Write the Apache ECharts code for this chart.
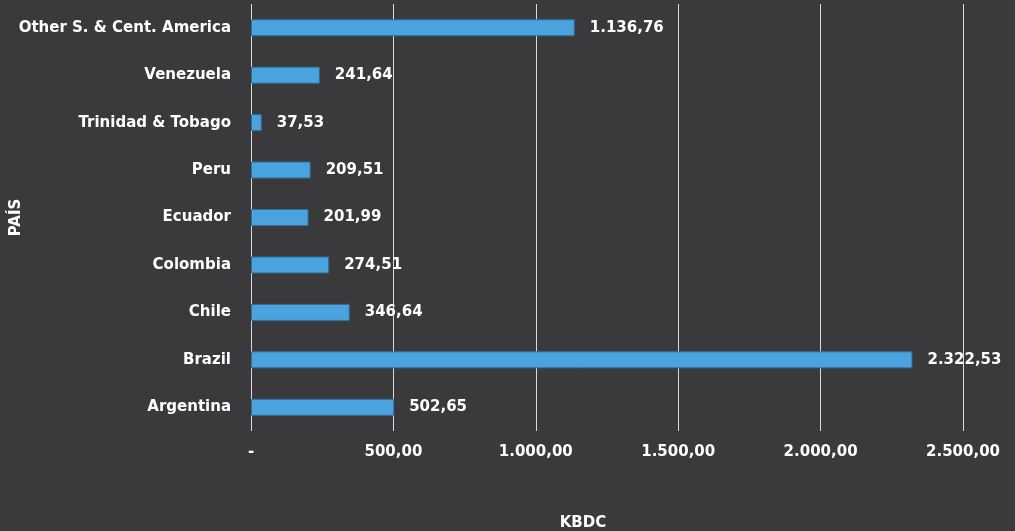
<!DOCTYPE html>
<html>
<head>
<meta charset="utf-8">
<script src="https://cdn.jsdelivr.net/npm/echarts@6/dist/echarts.min.js"></script>
<style>
html,body{margin:0;padding:0;background:#3a3a3c;}
#c{width:1015px;height:531px;}
</style>
</head>
<body>
<div id="c"></div>
<script>
var categories = ["Argentina","Brazil","Chile","Colombia","Ecuador","Peru","Trinidad & Tobago","Venezuela","Other S. & Cent. America"];
var values = [502.65, 2322.53, 346.64, 274.51, 201.99, 209.51, 37.53, 241.64, 1136.76];
var xTicks = [0, 500, 1000, 1500, 2000, 2500];

function fmt(v){
  if (v === 0) return '-';
  var parts = v.toFixed(2).split('.');
  var intPart = parts[0].replace(/\B(?=(\d{3})+(?!\d))/g, '.');
  return intPart + ',' + parts[1];
}

var FONT = '"DejaVu Sans", sans-serif';
var FS = 15;
var chart = echarts.init(document.getElementById('c'));
chart.setOption({
  backgroundColor: '#3a3a3c',
  animation: false,
  title: {
    text: 'KBDC',
    left: 578, top: 511,
    textAlign: 'center',
    textStyle: {color: '#ffffff', fontFamily: FONT, fontWeight: 'bold', fontSize: FS}
  },
  grid: {left: 251, right: 52, top: 4, bottom: 100, containLabel: false, outerBoundsMode: 'none'},
  xAxis: {
    type: 'value',
    min: xTicks[0], max: xTicks[xTicks.length-1], interval: 500,
    axisLine: {show: false},
    axisTick: {show: false},
    splitLine: {show: true, lineStyle: {color: '#d9d9d9', width: 1}},
    axisLabel: {
      color: '#ffffff', fontFamily: FONT, fontWeight: 'bold', fontSize: FS, margin: 14,
      hideOverlap: false,
      formatter: function(v){ return fmt(v); }
    }
  },
  yAxis: {
    type: 'category',
    data: categories,
    name: 'PAÍS',
    nameLocation: 'middle',
    nameGap: 227,
    nameRotate: 90,
    nameMoveOverlap: false,
    nameTextStyle: {color: '#ffffff', fontFamily: FONT, fontWeight: 'bold', fontSize: FS},
    axisLine: {show: false},
    axisTick: {show: false},
    splitLine: {show: false},
    axisLabel: {color: '#ffffff', fontFamily: FONT, fontWeight: 'bold', fontSize: FS, margin: 20}
  },
  series: [{
    type: 'bar',
    data: values,
    barWidth: 17,
    itemStyle: {color: '#4aa3dd', borderColor: '#2f6f9a', borderWidth: 1},
    label: {
      show: true, position: 'right', distance: 15,
      color: '#ffffff', fontFamily: FONT, fontWeight: 'bold', fontSize: FS,
      formatter: function(p){ return fmt(p.value); }
    }
  }]
});
</script>
</body>
</html>
